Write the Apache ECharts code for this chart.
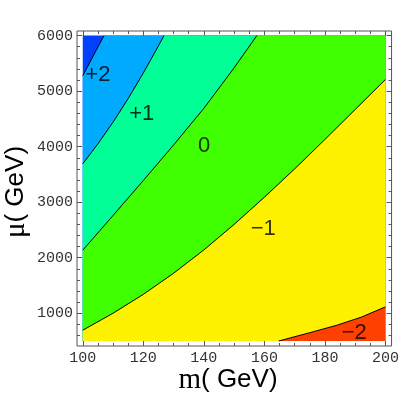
<!DOCTYPE html>
<html>
<head>
<meta charset="utf-8">
<script src="https://cdn.jsdelivr.net/npm/echarts@6/dist/echarts.min.js"></script>
<style>
html, body { margin: 0; padding: 0; background: #fff; }
#main { width: 402px; height: 402px; }
</style>
</head>
<body>
<div id="main"></div>
<script>
// tick values
var xTicks = [100, 120, 140, 160, 180, 200];
var xMinor = [100, 105, 110, 115, 120, 125, 130, 135, 140, 145, 150, 155, 160, 165, 170, 175, 180, 185, 190, 195, 200];
var yTicks = [1000, 2000, 3000, 4000, 5000, 6000];
var yMinor = [600, 800, 1000, 1200, 1400, 1600, 1800, 2000, 2200, 2400, 2600, 2800, 3000, 3200, 3400, 3600, 3800, 4000,
              4200, 4400, 4600, 4800, 5000, 5200, 5400, 5600, 5800, 6000];

// plotted range
var xRange = [100, 200];
var yRange = [500, 6000];

// contour lines (m, mu)
var lineP2X = [100, 107];
var lineP2Y = [5276, 6000];
var lineP1X = [100, 105, 110, 115, 120, 125, 126.85];
var lineP1Y = [3690, 4050, 4440, 4865, 5325, 5815, 6000];
var line0X = [100, 110, 120, 130, 140, 150, 157.5];
var line0Y = [2135, 2760, 3390, 4030, 4690, 5420, 6000];
var lineM1X = [100, 110, 120, 130, 140, 150, 160, 170, 180, 190, 200];
var lineM1Y = [694, 1000, 1340, 1720, 2140, 2600, 3090, 3600, 4130, 4670, 5210];
var lineM2X = [164.7, 175, 184, 192, 200];
var lineM2Y = [500, 650, 785, 930, 1115];

// level labels
var levelNames = ['+2', '+1', '0', '\u22121', '\u22122'];
var levelLabelX = [105.0, 119.5, 140.1, 159.6, 189.7];
var levelLabelY = [5289, 4586, 4018, 2514, 640];

var baseColor = '#0040ff';
var levelColors = ['#00aaff', '#00ff96', '#40ff00', '#fff200', '#ff4000'];

function zip(xs, ys) {
    return xs.map(function (x, i) { return [x, ys[i]]; });
}

var lines = [zip(lineP2X, lineP2Y), zip(lineP1X, lineP1Y), zip(line0X, line0Y), zip(lineM1X, lineM1Y), zip(lineM2X, lineM2Y)];

// region right/below each line, painted on top of the previous one
var regions = [{
    color: baseColor,
    pts: [[xRange[0], yRange[0]], [xRange[0], yRange[1]], [xRange[1], yRange[1]], [xRange[1], yRange[0]]]
}];
lines.forEach(function (pts, i) {
    var p = pts.slice();
    var last = p[p.length - 1];
    if (last[1] >= yRange[1]) p.push([xRange[1], yRange[1]]);
    p.push([xRange[1], yRange[0]]);
    if (p[0][0] <= xRange[0]) p.push([xRange[0], yRange[0]]);
    regions.push({ color: levelColors[i], pts: p });
});

var myChart = echarts.init(document.getElementById('main'));

var tickColor = '#555';
var labelFont = { fontFamily: 'Liberation Mono', fontSize: 15, color: '#333', formatter: function (v) { return String(v); } };

function xAx(pos, ticks, len, labels) {
    return {
        type: 'value', gridIndex: 0, position: pos, min: 98.1, max: 202,
        axisLine: { show: false }, splitLine: { show: false },
        axisTick: { show: true, inside: true, length: len, customValues: ticks, lineStyle: { color: tickColor, width: 1 } },
        axisLabel: labels ? Object.assign({ show: true, margin: 5, customValues: xTicks }, labelFont) : { show: false }
    };
}
function yAx(pos, ticks, len, labels) {
    return {
        type: 'value', gridIndex: 0, position: pos, min: 410, max: 6083,
        axisLine: { show: false }, splitLine: { show: false },
        axisTick: { show: true, inside: true, length: len, customValues: ticks, lineStyle: { color: tickColor, width: 1 } },
        axisLabel: labels ? Object.assign({ show: true, margin: 4, customValues: yTicks }, labelFont) : { show: false }
    };
}

var series = [{
    type: 'custom',
    xAxisIndex: 0, yAxisIndex: 0,
    silent: true,
    data: regions.map(function () { return [xRange[0], yRange[0]]; }),
    renderItem: function (params, api) {
        var r = regions[params.dataIndex];
        return {
            type: 'polygon',
            shape: { points: r.pts.map(function (p) { return api.coord(p); }) },
            style: { fill: r.color, stroke: null }
        };
    },
    z: 1
}];
lines.forEach(function (pts) {
    series.push({
        type: 'line', xAxisIndex: 0, yAxisIndex: 0, data: pts,
        symbol: 'none', silent: true,
        lineStyle: { color: '#000', width: 1 }, z: 3
    });
});
series.push({
    type: 'scatter', xAxisIndex: 0, yAxisIndex: 0,
    symbolSize: 1, itemStyle: { color: 'rgba(0,0,0,0)' }, silent: true,
    data: levelNames.map(function (n, i) { return { name: n, value: [levelLabelX[i], levelLabelY[i]] }; }),
    label: { show: true, position: 'inside', formatter: '{b}', fontFamily: 'Liberation Sans', fontSize: 22, color: '#000' },
    z: 4
});

var option = {
    animation: false,
    backgroundColor: '#fff',
    grid: { left: 77, top: 31, width: 315, height: 315, show: true, borderColor: '#555', borderWidth: 1, backgroundColor: 'rgba(0,0,0,0)' },
    xAxis: [xAx('bottom', xTicks, 5, true), xAx('bottom', xMinor, 3, false), xAx('top', xTicks, 5, false), xAx('top', xMinor, 3, false)],
    yAxis: [yAx('left', yTicks, 5, true), yAx('left', yMinor, 3, false), yAx('right', yTicks, 5, false), yAx('right', yMinor, 3, false)],
    series: series,
    graphic: [{
        type: 'text', x: 228, y: 380,
        style: {
            text: '{m|m}{g|( GeV)}', align: 'center', verticalAlign: 'middle', fill: '#000',
            rich: { m: { fontFamily: 'Liberation Serif', fontSize: 29 }, g: { fontFamily: 'Liberation Sans', fontSize: 26 } }
        }
    }, {
        type: 'text', x: 16, y: 192, rotation: Math.PI / 2,
        style: {
            text: '{m|\u03bc}{g|( GeV)}', align: 'center', verticalAlign: 'middle', fill: '#000',
            rich: { m: { fontFamily: 'Liberation Serif', fontSize: 29 }, g: { fontFamily: 'Liberation Sans', fontSize: 26 } }
        }
    }]
};
myChart.setOption(option, true);
</script>
</body>
</html>
